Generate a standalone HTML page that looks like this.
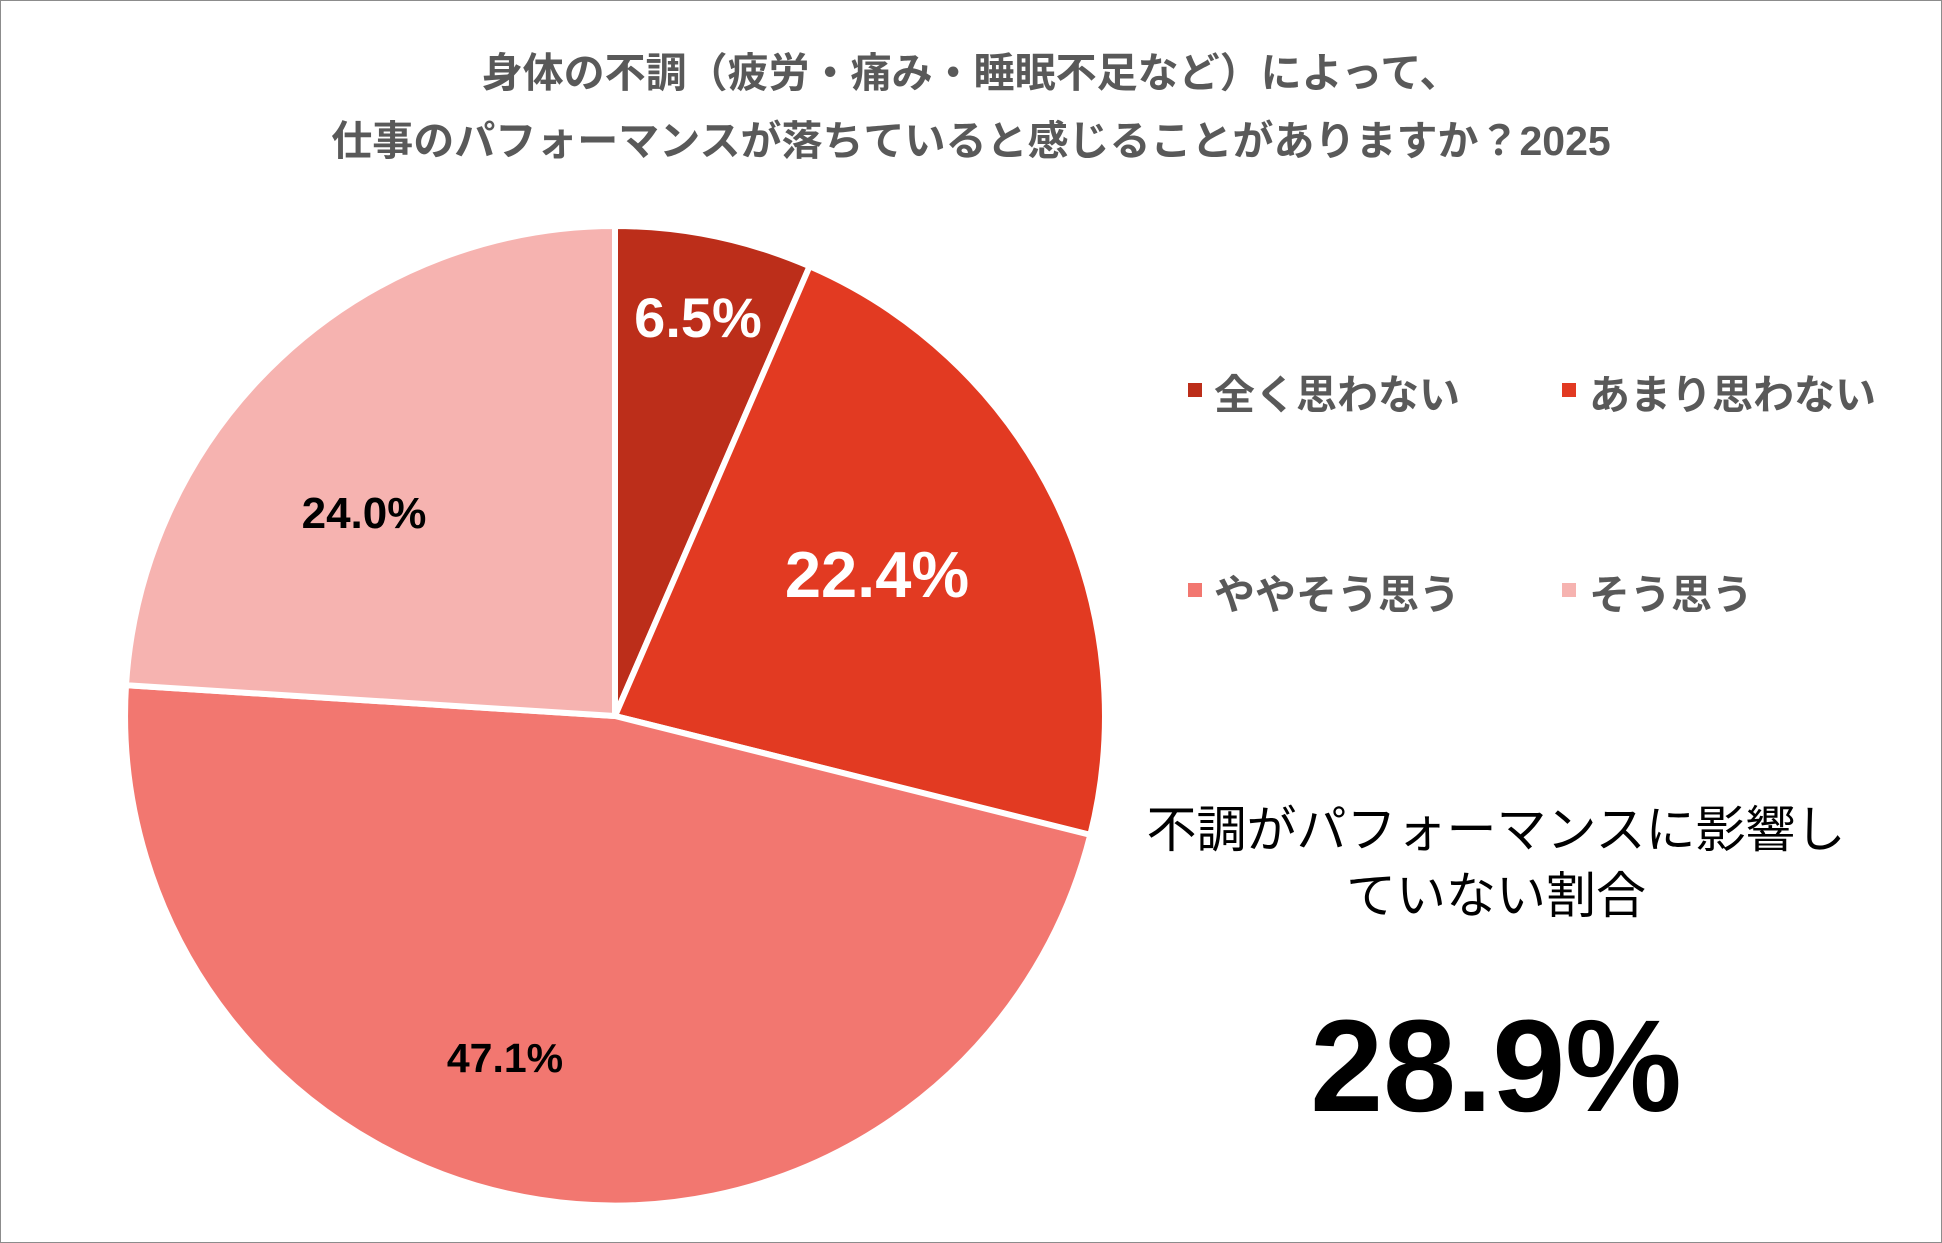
<!DOCTYPE html>
<html><head><meta charset="utf-8"><style>
html,body{margin:0;padding:0;background:#fff}
#c{position:relative;width:1940px;height:1241px;border:1px solid #8c8c8c;overflow:hidden;font-family:"Liberation Sans","Noto Sans CJK JP",sans-serif}
.t{position:absolute;white-space:nowrap}
</style></head><body><div id="c">
<div class="t" style="left:0;width:1940px;text-align:center;top:48px;font-size:41px;font-weight:bold;color:#595959;line-height:48px">身体の不調（疲労・痛み・睡眠不足など）によって、</div>
<div class="t" style="left:0;width:1940px;text-align:center;top:116px;font-size:41px;font-weight:bold;color:#595959;line-height:48px">仕事のパフォーマンスが落ちていると感じることがありますか？2025</div>
<svg style="position:absolute;left:0;top:0" width="1942" height="1243">
<g stroke="#fff" stroke-width="6" stroke-linejoin="round">
<path d="M614,715 L614,225 A490,490 0 0 1 808.6,265.3 Z" fill="#BC2E1A"/>
<path d="M614,715 L808.6,265.3 A490,490 0 0 1 1089.3,833.9 Z" fill="#E23A22"/>
<path d="M614,715 L1089.3,833.9 A490,490 0 0 1 125.0,684.2 Z" fill="#F27770"/>
<path d="M614,715 L125.0,684.2 A490,490 0 0 1 614,225 Z" fill="#F6B3B0"/>
</g>
<g font-family="Liberation Sans, sans-serif" font-weight="bold" text-anchor="middle">
<text x="697" y="336" font-size="56" fill="#fff">6.5%</text>
<text x="876" y="596" font-size="65" fill="#fff">22.4%</text>
<text x="363" y="527" font-size="44" fill="#000">24.0%</text>
<text x="504" y="1071" font-size="41" fill="#000">47.1%</text>
</g>
<rect x="1187" y="382" width="14" height="14" fill="#BC2E1A"/>
<rect x="1561" y="382" width="14" height="14" fill="#E23A22"/>
<rect x="1187" y="582" width="14" height="14" fill="#F27770"/>
<rect x="1561" y="582" width="14" height="14" fill="#F6B3B0"/>
</svg>
<div class="t" style="left:1213px;top:360px;font-size:41px;font-weight:bold;color:#595959">全く思わない</div>
<div class="t" style="left:1588px;top:360px;font-size:41px;font-weight:bold;color:#595959">あまり思わない</div>
<div class="t" style="left:1213px;top:560px;font-size:41px;font-weight:bold;color:#595959">ややそう思う</div>
<div class="t" style="left:1588px;top:560px;font-size:41px;font-weight:bold;color:#595959">そう思う</div>
<div class="t" style="left:1100px;width:790px;text-align:center;top:798px;font-size:50px;color:#000;line-height:62px">不調がパフォーマンスに影響し</div>
<div class="t" style="left:1100px;width:790px;text-align:center;top:864px;font-size:50px;color:#000;line-height:62px">ていない割合</div>
<div class="t" style="left:1100px;width:790px;text-align:center;top:990px;font-size:131px;font-weight:bold;color:#000;line-height:150px">28.9%</div>
</div></body></html>
